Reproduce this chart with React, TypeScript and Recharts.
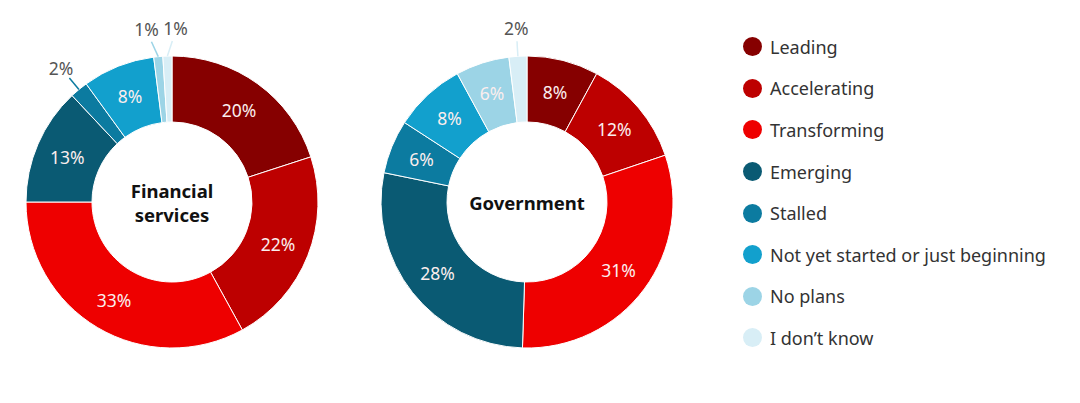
import { Label, Legend, Pie, PieChart, Cell } from 'recharts';

const CATEGORIES = [
  'Leading',
  'Accelerating',
  'Transforming',
  'Emerging',
  'Stalled',
  'Not yet started or just beginning',
  'No plans',
  'I don’t know',
];

const COLORS = ['#860000', '#bd0000', '#ee0000', '#0a5a73', '#0c7ba0', '#12a0cd', '#9cd4e6', '#d8eef6'];

const FINANCIAL = [20, 22, 33, 13, 2, 8, 1, 1];
const GOVERNMENT = [8, 12, 31, 28, 6, 8, 6, 2];

const FONT = '"Noto Sans", "Open Sans", sans-serif';
const RAD = Math.PI / 180;

const FIN_CX = 172;
const GOV_CX = 527;
const PIE_CY = 202;

const toRows = (values: number[]) => CATEGORIES.map((name, i) => ({ name, value: values[i] }));

const financialData = toRows(FINANCIAL);
const governmentData = toRows(GOVERNMENT);

// labels inside the ring; tiny slices get a leader line and sit outside
function makeLabel(values: number[]) {
  return (props: any) => {
    const { cx, cy, midAngle, innerRadius, outerRadius, index, value } = props;
    const small = (v: number | undefined) => v !== undefined && v <= 2;
    const cos = Math.cos(-midAngle * RAD);
    const sin = Math.sin(-midAngle * RAD);
    if (!small(value)) {
      const r = (innerRadius + outerRadius) / 2 + 1;
      return (
        <text
          x={cx + r * cos}
          y={cy + r * sin}
          fill="#fbeeee"
          fontSize={17.5}
          fontFamily={FONT}
          textAnchor="middle"
          dominantBaseline="central"
        >
          {value}%
        </text>
      );
    }
    let nudge = 0;
    if (small(values[index + 1])) nudge = -9;
    else if (index > 0 && small(values[index - 1])) nudge = 9;
    const x0 = cx + outerRadius * cos;
    const y0 = cy + outerRadius * sin;
    const x1 = cx + (outerRadius + 15) * cos + nudge * 0.6;
    const y1 = cy + (outerRadius + 15) * sin;
    const lx = cx + (outerRadius + 28) * cos + nudge;
    const ly = cy + (outerRadius + 28) * sin;
    return (
      <g>
        <line x1={x0} y1={y0} x2={x1} y2={y1} stroke={COLORS[index]} strokeWidth={1.5} />
        <text
          x={lx}
          y={ly}
          fill="#555"
          fontSize={17.5}
          fontFamily={FONT}
          textAnchor="middle"
          dominantBaseline="central"
        >
          {value}%
        </text>
      </g>
    );
  };
}

function CenterTitle({ cx, cy, lines }: { cx: number; cy: number; lines: string[] }) {
  const lh = 24;
  const top = cy - ((lines.length - 1) * lh) / 2;
  return (
    <g fontFamily={FONT} fontWeight={700} fontSize={18.5} fill="#111">
      {lines.map((l, i) => (
        <text key={l} x={cx} y={top + i * lh} textAnchor="middle" dominantBaseline="central">
          {l}
        </text>
      ))}
    </g>
  );
}

function LegendList() {
  return (
    <div style={{ fontFamily: FONT }}>
      {CATEGORIES.map((c, i) => (
        <div key={c} style={{ display: 'flex', alignItems: 'center', height: 41.6 }}>
          <span
            style={{
              width: 19,
              height: 19,
              borderRadius: '50%',
              background: COLORS[i],
              display: 'inline-block',
              marginRight: 8,
              flexShrink: 0,
            }}
          />
          <span style={{ fontSize: 18, color: '#333', whiteSpace: 'nowrap' }}>{c}</span>
        </div>
      ))}
    </div>
  );
}

export default function App() {
  return (
    <div style={{ position: 'absolute', left: 0, top: 0, width: 1080, height: 403, background: '#fff' }}>
      <PieChart width={1080} height={403} margin={{ top: 0, right: 0, bottom: 0, left: 0 }}>
        <Pie
          data={financialData}
          dataKey="value"
          nameKey="name"
          cx={FIN_CX}
          cy={PIE_CY}
          innerRadius={80}
          outerRadius={146}
          startAngle={90}
          endAngle={-270}
          stroke="#fff"
          strokeWidth={1}
          label={makeLabel(FINANCIAL)}
          labelLine={false}
          isAnimationActive={false}
        >
          {financialData.map((d, i) => (
            <Cell key={d.name} fill={COLORS[i]} />
          ))}
          <Label
            position="center"
            content={() => <CenterTitle cx={FIN_CX} cy={PIE_CY} lines={['Financial', 'services']} />}
          />
        </Pie>
        <Pie
          data={governmentData}
          dataKey="value"
          nameKey="name"
          cx={GOV_CX}
          cy={PIE_CY}
          innerRadius={80}
          outerRadius={146}
          startAngle={90}
          endAngle={-270}
          stroke="#fff"
          strokeWidth={1}
          label={makeLabel(GOVERNMENT)}
          labelLine={false}
          isAnimationActive={false}
        >
          {governmentData.map((d, i) => (
            <Cell key={d.name} fill={COLORS[i]} />
          ))}
          <Label position="center" content={() => <CenterTitle cx={GOV_CX} cy={PIE_CY} lines={['Government']} />} />
        </Pie>
        <Legend
          layout="vertical"
          verticalAlign="top"
          align="right"
          content={() => <LegendList />}
          wrapperStyle={{ left: 743, top: 26, width: 330 }}
        />
      </PieChart>
    </div>
  );
}
